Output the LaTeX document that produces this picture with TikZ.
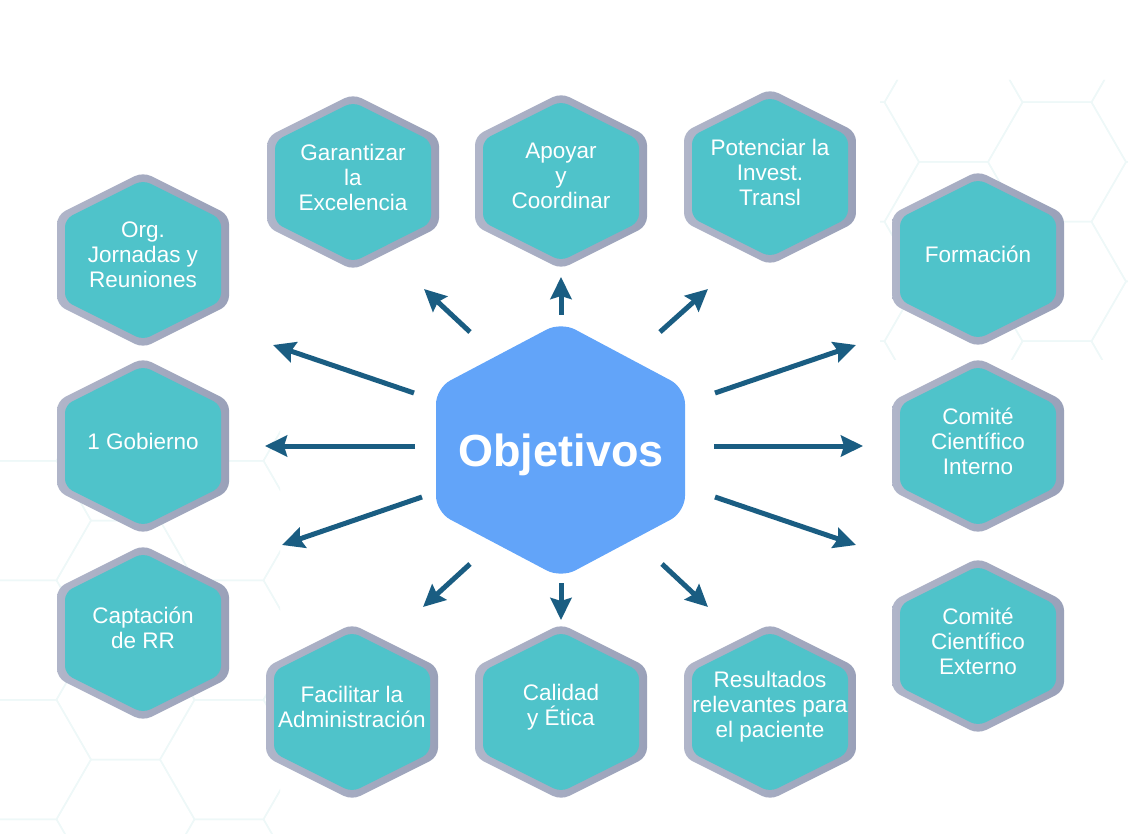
\documentclass[tikz,border=0pt]{standalone}
\usepackage{fontspec}
\setmainfont{Liberation Sans}
\usetikzlibrary{arrows.meta}

\definecolor{tealhex}{HTML}{4FC3CA}
\definecolor{rimlight}{HTML}{B0B5C9}
\definecolor{rimdark}{HTML}{9AA1B9}
\definecolor{centerblue}{HTML}{62A4F9}
\definecolor{arrowblue}{HTML}{1A5D82}
\definecolor{gridline}{HTML}{EEF8F8}

\tikzset{
  hexrim/.style={left color=rimlight, right color=rimdark, rounded corners=9pt},
  hexfill/.style={fill=tealhex, rounded corners=8pt},
  hextext/.style={text=white, align=center, inner sep=0pt,
    font=\fontsize{22.5}{25}\selectfont},
  objtext/.style={text=white, inner sep=0pt,
    font=\bfseries\fontsize{45}{50}\selectfont},
  flow/.style={draw=arrowblue, line width=5pt,
    -{Stealth[length=22pt, width=21pt, inset=3pt]}},
  pics/objhex/.style={code={
    \shade[hexrim] (86,0) -- (86,45) -- (0,88) -- (-86,45) -- (-86,-45) -- (0,-88) -- (86,-45) -- cycle;
    \fill[hexfill] (78,0) -- (78,41) -- (0,80) -- (-78,41) -- (-78,-41) -- (0,-80) -- (78,-41) -- cycle;
  }}
}

\begin{document}
\begin{tikzpicture}[x=1pt, y=-1pt]
    \useasboundingbox (0,0) rectangle (1128,834);

    % Background honeycomb
    \begin{scope}
      \clip (0,420) rectangle (280,834) (880,80) rectangle (1128,360);
      \foreach \i in {-11,...,1} {
        \foreach \j in {-1,...,6} {
          \pgfmathsetmacro\cx{1057+103.5*\i}
          \pgfmathsetmacro\cy{162+119.5*\j+59.75*mod(abs(\i),2)}
          \draw[gridline, line width=1.5pt] (\cx+69,\cy) -- (\cx+34.5,\cy-59.75) -- (\cx-34.5,\cy-59.75)
            -- (\cx-69,\cy) -- (\cx-34.5,\cy+59.75) -- (\cx+34.5,\cy+59.75) -- cycle;
        }
      }
    \end{scope}

    % Central hexagon
    \fill[centerblue, rounded corners=16pt] (685,450) -- (685,512) -- (561,578) -- (436,512)
      -- (436,388) -- (561,322) -- (685,388) -- cycle;
    \node[objtext] (obj) at (561,455) {Objetivos};

    % Objectives
    \foreach \x/\y/\name/\txt in {
        353/182/garant/{Garantizar\\la\\Excelencia},
        561/181/apoyar/{Apoyar\\y\\Coordinar},
        770/177/potenc/{Potenciar la\\Invest.\\Transl},
        143/260/jornadas/{Org.\\Jornadas y\\Reuniones},
        143/446/gobierno/{1 Gobierno},
        143/633/captac/{Captación\\de RR},
        978/259/forma/{Formación},
        978/446/cci/{Comité\\Científico\\Interno},
        978/646/cce/{Comité\\Científico\\Externo},
        352/712/facil/{Facilitar la\\Administración},
        561/712/calidad/{Calidad\\y Ética},
        770/712/result/{Resultados\\relevantes para\\el paciente}} {
      \pic at (\x,\y) {objhex};
      \node[hextext] (\name) at (\x,\y-5) {\txt};
    }

    % Arrows
    \foreach \n/\ax/\ay/\bx/\by in {
        garant/470/332/424/289, apoyar/561/315/561/277, potenc/660/332/708/289,
        jornadas/414/393/273/345, gobierno/415/446/265/446, captac/422/497/282/545,
        forma/715/393/856/345, cci/714/446/863/446, cce/715/497/856/545,
        facil/470/564/423/607, calidad/561/583/561/620, result/662/564/708/607} {
      \coordinate (from-\n) at (\ax,\ay);
      \coordinate (to-\n) at (\bx,\by);
      \draw[flow] (from-\n) -- (to-\n);
    }
\end{tikzpicture}
\end{document}
